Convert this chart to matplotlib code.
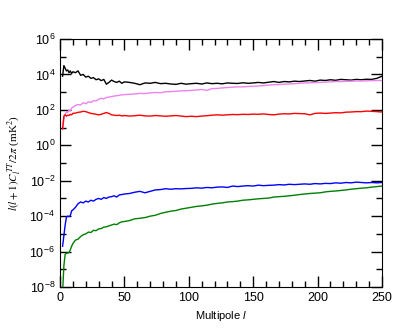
import numpy as np
import matplotlib
matplotlib.use('Agg')
import matplotlib.pyplot as plt

plt.rcParams['font.family'] = 'Liberation Sans'
plt.rcParams['mathtext.fontset'] = 'custom'
plt.rcParams['mathtext.rm'] = 'Liberation Sans'
plt.rcParams['mathtext.it'] = 'Liberation Sans:italic'

# multipoles
ell = [2, 3, 4, 5, 6, 7, 8, 9, 10,
       12, 14, 16, 18, 20, 22, 24, 26, 28, 30, 32, 34, 36, 38, 40, 42, 44, 46, 48, 50,
       54, 58, 62, 66, 70, 74, 78, 82, 86, 90, 94, 98, 102, 106, 110, 114, 118, 122,
       126, 130, 134, 138, 142, 146, 150, 154, 158, 162, 166, 170, 174, 178, 182, 186,
       190, 194, 198, 202, 206, 210, 214, 218, 222, 226, 230, 234, 238, 242, 246, 250]

# log10 of l(l+1)C_l/2pi
black = [3.9, 4.5, 4.35, 4.2, 4.25, 4.1, 4.2, 4.05, 4.15,
         4.1, 4.2, 3.95, 4.0, 3.85, 3.9, 3.78, 3.82, 3.7, 3.75, 3.65, 3.72, 3.45, 3.55, 3.68, 3.6, 3.55, 3.62, 3.5, 3.58,
         3.55, 3.5, 3.42, 3.52, 3.5, 3.55, 3.48, 3.5, 3.46, 3.44, 3.5, 3.45, 3.48, 3.5, 3.46, 3.52, 3.48, 3.5,
         3.47, 3.52, 3.5, 3.49, 3.53, 3.5, 3.52, 3.55, 3.52, 3.56, 3.6, 3.55, 3.6, 3.58, 3.62, 3.6,
         3.63, 3.66, 3.62, 3.68, 3.66, 3.7, 3.67, 3.72, 3.7, 3.68, 3.72, 3.7, 3.73, 3.72, 3.78, 3.9]

violet = [0.92, 1.5, 1.75, 1.9, 1.85, 2.0, 1.95, 2.1, 2.15,
          2.25, 2.3, 2.28, 2.4, 2.35, 2.45, 2.42, 2.52, 2.5, 2.6, 2.65, 2.62, 2.7, 2.72, 2.75, 2.78, 2.8, 2.82, 2.85, 2.86,
          2.88, 2.9, 2.93, 2.92, 2.96, 2.98, 2.97, 3.02, 3.03, 3.05, 3.07, 3.08, 3.1, 3.12, 3.15, 3.1, 3.2, 3.21,
          3.24, 3.26, 3.28, 3.3, 3.3, 3.32, 3.33, 3.35, 3.37, 3.4, 3.42, 3.43, 3.45, 3.46, 3.48, 3.5,
          3.52, 3.53, 3.54, 3.55, 3.57, 3.58, 3.6, 3.6, 3.61, 3.62, 3.63, 3.63, 3.64, 3.65, 3.66, 3.66]

red = [0.92, 1.65, 1.72, 1.65, 1.7, 1.68, 1.75, 1.72, 1.8,
       1.82, 1.86, 1.88, 1.92, 1.9, 1.85, 1.8, 1.78, 1.75, 1.72, 1.75, 1.8, 1.85, 1.8, 1.72, 1.7, 1.68, 1.7, 1.66, 1.68,
       1.65, 1.67, 1.7, 1.66, 1.65, 1.68, 1.66, 1.64, 1.66, 1.68, 1.65, 1.62, 1.64, 1.62, 1.65, 1.67, 1.7, 1.72,
       1.7, 1.72, 1.74, 1.73, 1.75, 1.74, 1.76, 1.75, 1.77, 1.74, 1.72, 1.76, 1.78, 1.77, 1.8, 1.79,
       1.78, 1.72, 1.8, 1.82, 1.8, 1.82, 1.84, 1.83, 1.87, 1.88, 1.9, 1.9, 1.93, 1.92, 1.9, 1.88]

blue = [-5.7, -5.1, -4.5, -4.05, -4.0, -4.02, -3.98, -3.7, -3.65,
        -3.5, -3.3, -3.2, -3.25, -3.15, -3.2, -3.1, -3.15, -3.05, -3.0, -3.05, -2.95, -3.0, -2.92, -2.9, -2.85, -2.92, -2.8, -2.78, -2.75,
        -2.72, -2.65, -2.6, -2.68, -2.6, -2.52, -2.5, -2.45, -2.48, -2.45, -2.46, -2.44, -2.43, -2.4, -2.42, -2.38, -2.4, -2.36,
        -2.35, -2.38, -2.3, -2.33, -2.3, -2.28, -2.3, -2.25, -2.28, -2.26, -2.25, -2.22, -2.24, -2.2, -2.22, -2.2,
        -2.18, -2.2, -2.16, -2.18, -2.15, -2.16, -2.12, -2.14, -2.1, -2.12, -2.08, -2.1, -2.12, -2.1, -2.12, -2.1]

green = [-8.3, -6.8, -6.15, -6.1, -6.08, -6.05, -5.9, -5.7, -5.55,
         -5.35, -5.3, -5.15, -5.05, -5.0, -4.9, -4.92, -4.8, -4.82, -4.72, -4.7, -4.62, -4.6, -4.55, -4.5, -4.45, -4.48, -4.38, -4.32, -4.3,
         -4.25, -4.15, -4.12, -4.08, -4.0, -3.95, -3.85, -3.78, -3.72, -3.68, -3.6, -3.55, -3.5, -3.45, -3.42, -3.38, -3.32, -3.28,
         -3.25, -3.2, -3.18, -3.15, -3.1, -3.08, -3.05, -3.02, -3.0, -2.98, -2.92, -2.9, -2.88, -2.85, -2.82, -2.78,
         -2.75, -2.72, -2.7, -2.68, -2.63, -2.6, -2.58, -2.55, -2.52, -2.48, -2.45, -2.42, -2.4, -2.36, -2.33, -2.3]

series = [(black, 'black'), (violet, 'violet'), (red, 'red'), (blue, 'blue'), (green, 'green')]

fig = plt.figure(figsize=(4.15, 3.32), dpi=100)
ax = fig.add_axes([0.1446, 0.1355, 0.7759, 0.747])

for vals, col in series:
    ax.plot(ell, 10 ** np.array(vals), color=col, lw=1.0)

ax.set_yscale('log')
ax.set_xlim(0, 250)
ax.set_ylim(1e-8, 1e6)
ax.set_xticks(range(0, 251, 50))
ax.set_xticks(range(0, 251, 10), minor=True)
ax.set_yticks([10.0 ** k for k in range(-8, 7, 2)])
ax.set_yticks([10.0 ** k for k in range(-7, 6, 2)], minor=True)
ax.set_yticklabels(['$10^{%d}$' % k for k in range(-8, 7, 2)])
ax.yaxis.set_minor_formatter(plt.NullFormatter())
ax.tick_params(which='both', direction='in', top=True, right=True, labelsize=9)
ax.tick_params(which='major', length=8, width=1)
ax.tick_params(which='minor', length=4, width=1)

ax.set_xlabel('Multipole $l$', fontsize=8)
ylab = ax.set_ylabel(r'$l(l+1)C_l^{\,TT}/2\pi$ (mK$^2$)', fontsize=8, family='Liberation Serif')
ylab.set_math_fontfamily('stix')

fig.savefig('out.png', dpi=100)
